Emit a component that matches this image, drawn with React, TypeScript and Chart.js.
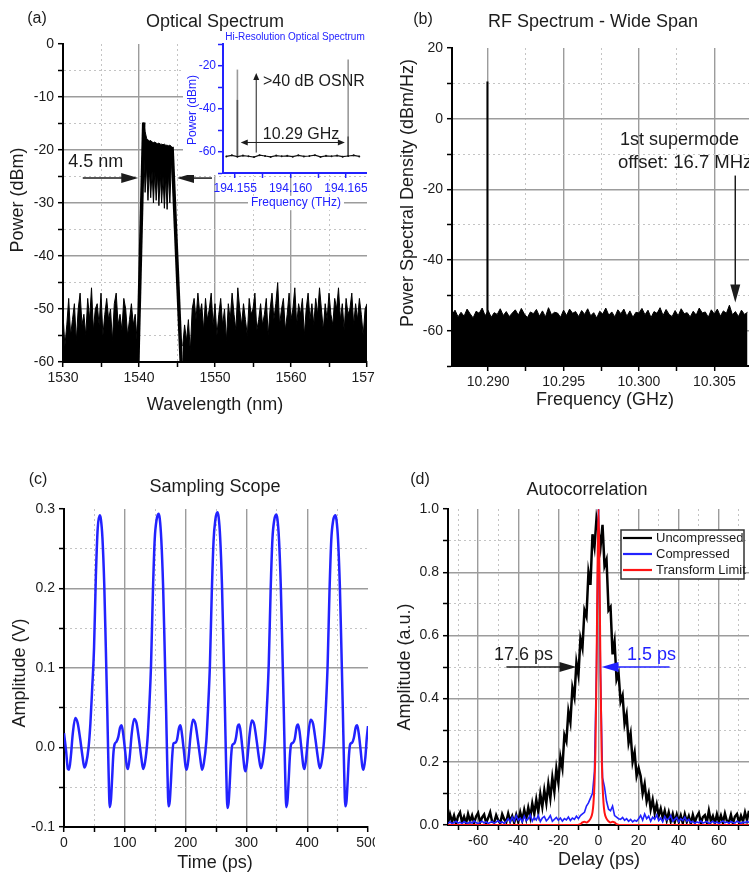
import React, { useEffect, useRef } from 'react';
import { Chart, registerables } from 'chart.js';

Chart.register(...registerables);

const FONT = '"Liberation Sans", Arial, Helvetica, sans-serif';
const INK = '#1c1c1c';
const BLUE = '#2222ff';
const RED = '#ff1414';
const GRID_MAJOR = '#9c9c9c';
const GRID_MINOR = '#c4c4c4';
Chart.defaults.font.family = FONT;

// ---------------- (a) Optical spectrum ----------------
const wavelengthTicks = [1530, 1535, 1540, 1545, 1550, 1555, 1560, 1565, 1570];
const wavelengthLabels = [1530, 1540, 1550, 1560, 1570];
const powerTicks = [-60, -55, -50, -45, -40, -35, -30, -25, -20, -15, -10, -5, 0];
const powerLabels = [-60, -50, -40, -30, -20, -10, 0];

const noiseLeftStartNm = 1530;
const noiseLeftStepNm = 0.25;
const noiseLeftDbm = [-51, -57, -53, -48, -55, -52, -49, -56, -50, -47, -53, -51, -55, -48, -52, -46, -54, -50, -49, -53,
  -47, -55, -51, -48, -52, -50, -56, -49, -47, -53, -51, -54, -48, -50, -55, -52, -49, -53, -51, -56];

const noiseRightStartNm = 1545.75;
const noiseRightStepNm = 0.25;
const noiseRightDbm = [-57,
  -53, -56, -52, -58,
  -50, -48, -52, -47, -51, -49, -54, -48, -52, -50, -47, -53, -49, -55, -51, -48,
  -53, -50, -56, -49, -52, -47, -51, -54, -46, -50, -53, -49, -52, -55, -48, -51,
  -50, -47, -54, -52, -49, -53, -51, -48, -55, -50, -47, -52, -49, -45, -53, -50,
  -48, -54, -51, -47, -52, -50, -46, -53, -49, -51, -48, -55, -50, -47, -52, -49,
  -53, -48, -51, -46, -50, -54, -49, -52, -47, -51, -53, -48, -50, -46, -52, -49,
  -54, -48, -51, -50, -47, -53, -49, -52, -48, -51, -55, -50,
  -49];

const leftEdgeNm = [1539.85, 1540.62];
const leftEdgeDbm = [-60, -14.8];
const rightEdgeNm = [1544.35, 1545.55];
const rightEdgeDbm = [-19.4, -60];

const bandNm = [1540.62, 1540.8, 1541.0, 1541.18, 1541.36, 1541.54, 1541.72, 1541.9, 1542.08, 1542.26, 1542.44,
  1542.62, 1542.8, 1542.98, 1543.16, 1543.34, 1543.52, 1543.7, 1543.88, 1544.06, 1544.24, 1544.4];
const bandTopDbm = [-14.8, -16.5, -17.8, -18.1, -18.3, -18.2, -18.5, -18.6, -18.5, -18.7, -18.8,
  -18.7, -18.9, -18.9, -19.0, -18.9, -19.1, -19.1, -19.2, -19.1, -19.3, -19.6];
const bandBottomDbm = [-20, -28, -23, -29.5, -23.5, -29, -24, -30, -24, -29.5, -24.5,
  -30.5, -24.5, -30, -25, -31, -25, -31.2, -24.5, -30, -23, -21];

// inset: hi-resolution optical spectrum
const insetFreqTicks = [194.155, 194.1575, 194.16, 194.1625, 194.165];
const insetFreqLabels = [194.155, 194.16, 194.165];
const insetPowerTicks = [-70, -60, -50, -40, -30, -20, -10];
const insetPowerLabels = [-60, -40, -20];
const insetFloorStartThz = 194.1542;
const insetFloorStepThz = 0.0005;
const insetFloorDbm = [-62.3, -61.8, -62.4, -61.9, -62.2, -62.6, -61.7, -62.1, -62.5, -61.9, -62.2, -62.0, -62.4,
  -61.8, -62.3, -62.1, -61.7, -62.5, -62.0, -62.2, -61.9, -62.4, -62.1, -61.8, -62.3];
const combLineThz = [194.1552, 194.1652];
const combTopDbm = [-21.9, -17.2];
const combDarkTopDbm = [-36, -53];
const combBaseDbm = -62;

// ---------------- (b) RF spectrum ----------------
const rfFreqTicks = [10.29, 10.2925, 10.295, 10.2975, 10.3, 10.3025, 10.305];
const rfFreqLabels = [10.29, 10.295, 10.3, 10.305];
const psdTicks = [-70, -60, -50, -40, -30, -20, -10, 0, 10, 20];
const psdLabels = [-60, -40, -20, 0, 20];
const rfNoiseStartGhz = 10.2876;
const rfNoiseStepGhz = 0.0002;
const rfNoiseDbm = [-55.5, -54.2, -56.1, -54.8, -55.9, -53.9, -55.2, -56.4, -54.5, -55.1, -53.6, -55.8, -54.3, -56.2, -54.9, -55.4, -53.8, -55.7, -54.6, -56.0,
  -55.0, -54.1, -55.6, -53.7, -55.3, -56.3, -54.7, -55.2, -54.0, -55.9, -54.4, -56.1, -53.5, -55.5, -54.8, -55.0, -56.2, -54.2, -55.7, -53.9,
  -55.1, -54.6, -56.0, -54.3, -55.4, -53.8, -55.8, -54.9, -56.4, -54.5, -55.3, -53.6, -55.6, -54.7, -56.1, -54.1, -55.2, -53.9, -55.9, -54.4,
  -56.2, -54.8, -55.0, -53.7, -55.5, -54.2, -56.3, -54.6, -55.1, -53.5, -55.7, -54.0, -55.4, -56.0, -54.3, -55.8, -53.8, -55.2, -54.9, -56.1,
  -54.5, -55.6, -53.6, -55.0, -54.7, -56.2, -54.1, -55.3, -53.9, -55.9, -54.4, -55.1, -52.8, -55.5, -54.6, -56.0, -54.2, -55.4, -54.8];
const carrierGhz = 10.28995;
const carrierDbm = 10.5;

// ---------------- (c) Sampling scope ----------------
const timeTicks = [0, 50, 100, 150, 200, 250, 300, 350, 400, 450, 500];
const timeLabels = [0, 100, 200, 300, 400, 500];
const voltTicks = [-0.1, -0.05, 0, 0.05, 0.1, 0.15, 0.2, 0.25, 0.3];
const voltLabels = [-0.1, 0, 0.1, 0.2, 0.3];
const scopeTimePs = [
  0, 3.4, 6.4, 8.4, 11.4, 14.4, 18.4, 22.4, 26.4, 30.4, 33.4, 36.4, 40.4, 43.4, 46.4, 49.4, 52.4, 55.4,
  58.7, 60.7, 63.2, 66.2, 68.7, 71.2, 73.2, 75.2, 77.2, 79.2, 81.2, 83.2, 86.2, 89.2, 92.2, 94.7, 97.2, 100.2, 103.2, 105.2, 108.2, 111.2, 115.2, 119.2, 123.2, 127.2, 130.2, 133.2, 137.2, 140.2, 143.2, 146.2, 149.2, 152.2,
  155.5, 157.5, 160, 163, 165.5, 168, 170, 172, 174, 176, 178, 180, 183, 186, 189, 191.5, 194, 197, 200, 202, 205, 208, 212, 216, 220, 224, 227, 230, 234, 237, 240, 243, 246, 249,
  252.3, 254.3, 256.8, 259.8, 262.3, 264.8, 266.8, 268.8, 270.8, 272.8, 274.8, 276.8, 279.8, 282.8, 285.8, 288.3, 290.8, 293.8, 296.8, 298.8, 301.8, 304.8, 308.8, 312.8, 316.8, 320.8, 323.8, 326.8, 330.8, 333.8, 336.8, 339.8, 342.8, 345.8,
  349.1, 351.1, 353.6, 356.6, 359.1, 361.6, 363.6, 365.6, 367.6, 369.6, 371.6, 373.6, 376.6, 379.6, 382.6, 385.1, 387.6, 390.6, 393.6, 395.6, 398.6, 401.6, 405.6, 409.6, 413.6, 417.6, 420.6, 423.6, 427.6, 430.6, 433.6, 436.6, 439.6, 442.6,
  446.2, 448.2, 450.7, 453.7, 456.2, 458.7, 460.7, 462.7, 464.7, 466.7, 468.7, 470.7, 473.7, 476.7, 479.7, 482.2, 484.7, 487.7, 490.7, 492.7, 495.7, 498, 500];
const scopeVolts = [
  0.018, -0.004, -0.027, -0.028, -0.01, 0.017, 0.037, 0.031, 0.012, -0.011, -0.025, -0.02, 0.0, 0.03, 0.075, 0.125, 0.215, 0.275,
  0.292, 0.287, 0.264, 0.205, 0.128, 0.046, -0.026, -0.075, -0.066, -0.038, -0.008, 0.004, 0.007, 0.013, 0.025, 0.028, 0.018, -0.002, -0.023, -0.027, -0.011, 0.016, 0.036, 0.031, 0.011, -0.013, -0.027, -0.019, 0.009, 0.05, 0.105, 0.195, 0.262, 0.286,
  0.294, 0.288, 0.262, 0.203, 0.126, 0.045, -0.027, -0.074, -0.067, -0.041, -0.011, 0.005, 0.006, 0.01, 0.024, 0.028, 0.017, -0.003, -0.024, -0.028, -0.012, 0.014, 0.035, 0.03, 0.01, -0.013, -0.028, -0.02, 0.007, 0.05, 0.104, 0.193, 0.26, 0.287,
  0.296, 0.29, 0.265, 0.205, 0.127, 0.044, -0.028, -0.076, -0.069, -0.042, -0.012, 0.003, 0.005, 0.012, 0.027, 0.029, 0.018, -0.004, -0.026, -0.03, -0.013, 0.013, 0.034, 0.029, 0.009, -0.014, -0.026, -0.018, 0.01, 0.052, 0.106, 0.196, 0.262, 0.286,
  0.293, 0.287, 0.262, 0.202, 0.125, 0.042, -0.028, -0.075, -0.067, -0.04, -0.01, 0.004, 0.006, 0.011, 0.026, 0.029, 0.019, -0.002, -0.023, -0.027, -0.011, 0.015, 0.035, 0.03, 0.01, -0.013, -0.026, -0.019, 0.008, 0.049, 0.104, 0.194, 0.261, 0.285,
  0.292, 0.286, 0.262, 0.203, 0.126, 0.044, -0.027, -0.074, -0.067, -0.04, -0.01, 0.004, 0.006, 0.012, 0.025, 0.028, 0.018, -0.002, -0.024, -0.028, -0.012, 0.012, 0.027];

// ---------------- (d) Autocorrelation ----------------
const delayTicks = [-70, -60, -50, -40, -30, -20, -10, 0, 10, 20, 30, 40, 50, 60, 70];
const delayLabels = [-60, -40, -20, 0, 20, 40, 60];
const auTicks = [0, 0.1, 0.2, 0.3, 0.4, 0.5, 0.6, 0.7, 0.8, 0.9, 1.0];
const auLabels = [0, 0.2, 0.4, 0.6, 0.8, 1.0];
const delayStartPs = -75;
const delayStepPs = 1;
const uncompressedAu = [
  0.006, 0.034, 0.01, 0.03, 0.004, 0.028, 0.04, 0.008, 0.026, 0.005, 0.035, 0.012, 0.03, 0.006, 0.027, 0.038, 0.009, 0.024, 0.033, 0.007,
  0.022, 0.04, 0.01, 0.008, 0.031, 0.015, 0.005, 0.034, 0.018, 0.009, 0.036, 0.012, 0.028, 0.007, 0.032,
  0.01, 0.04, 0.015, 0.048, 0.02, 0.055, 0.025, 0.068, 0.035, 0.08, 0.042, 0.098, 0.058, 0.11, 0.07, 0.13, 0.085, 0.15, 0.105, 0.178,
  0.135, 0.215, 0.18, 0.285, 0.265, 0.36, 0.325, 0.435, 0.405, 0.515, 0.475, 0.59, 0.56, 0.68, 0.66, 0.8, 0.76, 0.92, 0.88, 0.97,
  0.93,
  0.88, 0.95, 0.82, 0.84, 0.68, 0.69, 0.54, 0.58, 0.46, 0.48, 0.39, 0.41, 0.32, 0.35, 0.26, 0.29, 0.2, 0.23, 0.155, 0.18,
  0.155, 0.1, 0.13, 0.075, 0.1, 0.05, 0.08, 0.038, 0.065, 0.03, 0.052, 0.022, 0.045, 0.015, 0.04, 0.012, 0.035, 0.009, 0.033, 0.01,
  0.03, 0.006, 0.034, 0.01, 0.028, 0.004, 0.032, 0.009, 0.027, 0.038, 0.006, 0.025, 0.031, 0.008, 0.045, 0.012, 0.028, 0.005, 0.034, 0.01,
  0.03, 0.007, 0.036, 0.012, 0.009, 0.032, 0.005, 0.027, 0.035, 0.008, 0.029, 0.011, 0.04, 0.015, 0.045];
const compressedAu = [
  0.005, 0.01, 0.004, 0.008, 0.012, 0.006, 0.009, 0.004, 0.011, 0.007, 0.005, 0.01, 0.006, 0.013, 0.008, 0.004, 0.009, 0.012, 0.006, 0.01,
  0.005, 0.008, 0.011, 0.006, 0.009, 0.014, 0.007, 0.01, 0.005, 0.012,
  0.02, 0.01, 0.025, 0.012, 0.03, 0.015, 0.022, 0.01, 0.028, 0.014, 0.02, 0.032, 0.012, 0.024, 0.016, 0.03, 0.011, 0.022, 0.027, 0.013,
  0.02, 0.03, 0.012, 0.018, 0.024,
  0.015, 0.022, 0.012, 0.02, 0.016, 0.025, 0.014, 0.022, 0.018, 0.028, 0.02, 0.03,
  0.035, 0.04, 0.06, 0.07, 0.085, 0.1, 0.17, 0.5, 1.0, 0.48, 0.15, 0.12, 0.075, 0.05, 0.045, 0.06, 0.03,
  0.025, 0.02, 0.018, 0.024, 0.015, 0.02, 0.012, 0.018, 0.01, 0.015, 0.012, 0.02,
  0.03, 0.015, 0.035, 0.02, 0.028, 0.012, 0.025, 0.018, 0.032, 0.014, 0.022, 0.01, 0.027, 0.016, 0.02, 0.03, 0.012, 0.018, 0.024, 0.01,
  0.02, 0.014, 0.025, 0.012, 0.018,
  0.008, 0.012, 0.005, 0.01, 0.007, 0.013, 0.006, 0.009, 0.011, 0.005, 0.008, 0.012, 0.006, 0.01, 0.004, 0.009, 0.013, 0.007, 0.01, 0.005,
  0.011, 0.008, 0.006, 0.012, 0.009, 0.005, 0.01, 0.007, 0.012, 0.008];
const transformDelayPs = [-75, -12, -9, -8, -7, -6, -5, -4, -3, -2.5, -2, -1.5, -1, -0.5, 0, 0.5, 1, 1.5, 2, 2.5, 3, 4, 5, 6, 7, 8, 9, 12, 75];
const transformAu = [0, 0, 0.003, 0.008, 0.01, 0.008, 0.012, 0.02, 0.04, 0.07, 0.13, 0.25, 0.48, 0.8, 1.0, 0.8, 0.48, 0.25, 0.13, 0.07, 0.04, 0.02, 0.012, 0.008, 0.01, 0.008, 0.003, 0, 0];
const seriesNames = ['Uncompressed', 'Compressed', 'Transform Limit'];

// ---------------- helpers ----------------
const pts = (xs: number[], ys: number[]) => xs.map((x, i) => ({ x, y: ys[i] }));
const onGrid = (start: number, step: number, ys: number[]) => ys.map((y, i) => ({ x: start + i * step, y }));
const near = (a: number, b: number) => Math.abs(a - b) < 1e-7;

type AxisOpt = {
  min: number; max: number; ticks: number[]; labels: number[]; fmt: (v: number) => string;
  fit: number; horizontal: boolean; color?: string; onArea?: boolean; size?: number; pad?: number;
};
function axis(o: AxisOpt) {
  const col = o.color || '#000';
  const isLab = (v: number) => o.labels.some((l) => near(l, v));
  const isEdge = (v: number) => near(v, o.min) || near(v, o.max);
  return {
    type: 'linear',
    min: o.min,
    max: o.max,
    afterBuildTicks: (s: any) => { s.ticks = o.ticks.map((v) => ({ value: v })); },
    afterFit: (s: any) => {
      if (o.horizontal) s.height = o.fit; else s.width = o.fit;
      s.paddingLeft = 0; s.paddingRight = 0; s.paddingTop = 0; s.paddingBottom = 0;
    },
    ticks: {
      autoSkip: false, maxRotation: 0, minRotation: 0, padding: o.pad ?? 3,
      color: o.color || INK, font: { family: FONT, size: o.size ?? 14 },
      callback: (v: number) => (isLab(v) ? o.fmt(v) : ''),
    },
    grid: {
      drawOnChartArea: o.onArea !== false, drawTicks: true, tickLength: 5, tickWidth: 1.5, tickColor: col,
      color: (c: any) => {
        const v = c.tick?.value;
        if (v === undefined || isEdge(v)) return 'rgba(0,0,0,0)';
        return isLab(v) ? GRID_MAJOR : GRID_MINOR;
      },
      lineWidth: (c: any) => { const v = c.tick?.value; return v !== undefined && isLab(v) ? 1.4 : 1; },
    },
    border: {
      display: true, color: col, width: 2,
      dash: (c: any) => { const v = c.tick?.value; return v !== undefined && !isLab(v) ? [2, 3] : []; },
    },
  };
}

type Txt = { text: string; x: number; y: number; size: number; color?: string; align?: CanvasTextAlign; rot?: boolean; data?: boolean; bg?: boolean };
type Arrow = { x1: number; y1: number; x2: number; y2: number; color?: string; both?: boolean; head?: number; hw?: number; lw?: number };
type Legend = { x: number; y: number; w: number; h: number; first: number; row: number; size: number };
type AnnotCfg = { texts?: Txt[]; arrows?: Arrow[]; legend?: Legend; bg?: number[][] };

function annot(cfg: AnnotCfg) {
  return {
    id: 'annot',
    beforeDraw(chart: any) {
      if (!cfg.bg) return;
      const ctx = chart.ctx;
      ctx.save();
      ctx.fillStyle = '#ffffff';
      for (const r of cfg.bg) ctx.fillRect(r[0], r[1], r[2], r[3]);
      ctx.restore();
    },
    afterDraw(chart: any) {
      const ctx = chart.ctx;
      const xs = chart.scales.x;
      const ys = chart.scales.y;
      ctx.save();
      for (const a of cfg.arrows || []) {
        const x1 = xs.getPixelForValue(a.x1), y1 = ys.getPixelForValue(a.y1);
        const x2 = xs.getPixelForValue(a.x2), y2 = ys.getPixelForValue(a.y2);
        const L = Math.hypot(x2 - x1, y2 - y1);
        const ux = (x2 - x1) / L, uy = (y2 - y1) / L;
        const nx = -uy, ny = ux;
        const hl = a.head ?? 16, hw = a.hw ?? 5;
        const c = a.color ?? INK;
        ctx.strokeStyle = c;
        ctx.fillStyle = c;
        ctx.lineWidth = a.lw ?? 1.5;
        const sx = a.both ? x1 + ux * hl * 0.8 : x1;
        const sy = a.both ? y1 + uy * hl * 0.8 : y1;
        ctx.beginPath();
        ctx.moveTo(sx, sy);
        ctx.lineTo(x2 - ux * hl * 0.8, y2 - uy * hl * 0.8);
        ctx.stroke();
        const head = (px: number, py: number, dx: number, dy: number) => {
          ctx.beginPath();
          ctx.moveTo(px, py);
          ctx.lineTo(px - dx * hl + nx * hw, py - dy * hl + ny * hw);
          ctx.lineTo(px - dx * hl - nx * hw, py - dy * hl - ny * hw);
          ctx.closePath();
          ctx.fill();
        };
        head(x2, y2, ux, uy);
        if (a.both) head(x1, y1, -ux, -uy);
      }
      for (const t of cfg.texts || []) {
        let x = t.x, y = t.y;
        if (t.data) { x = xs.getPixelForValue(t.x); y = ys.getPixelForValue(t.y); }
        ctx.save();
        ctx.font = `${t.size}px ${FONT}`;
        ctx.textAlign = t.align ?? 'center';
        ctx.textBaseline = 'middle';
        ctx.translate(x, y);
        if (t.rot) ctx.rotate(-Math.PI / 2);
        if (t.bg) {
          const w = ctx.measureText(t.text).width;
          ctx.fillStyle = '#ffffff';
          ctx.fillRect(-w / 2 - 3, -t.size * 0.6, w + 6, t.size * 1.2);
        }
        ctx.fillStyle = t.color ?? INK;
        ctx.fillText(t.text, 0, 0);
        ctx.restore();
      }
      const lg = cfg.legend;
      if (lg) {
        ctx.fillStyle = '#ffffff';
        ctx.fillRect(lg.x, lg.y, lg.w, lg.h);
        ctx.strokeStyle = '#333333';
        ctx.lineWidth = 1.5;
        ctx.strokeRect(lg.x, lg.y, lg.w, lg.h);
        const items = chart.data.datasets.filter((d: any) => d.label);
        items.forEach((d: any, i: number) => {
          const y = lg.y + lg.first + i * lg.row;
          ctx.strokeStyle = d.borderColor;
          ctx.lineWidth = 2.2;
          ctx.beginPath();
          ctx.moveTo(lg.x + 2, y);
          ctx.lineTo(lg.x + 31, y);
          ctx.stroke();
          ctx.fillStyle = INK;
          ctx.font = `${lg.size}px ${FONT}`;
          ctx.textAlign = 'left';
          ctx.textBaseline = 'middle';
          ctx.fillText(d.label, lg.x + 35, y);
        });
      }
      ctx.restore();
    },
  };
}

function baseOptions(padding: any, scales: any) {
  return {
    responsive: false,
    animation: false,
    devicePixelRatio: 1,
    events: [],
    layout: { padding, autoPadding: false },
    plugins: { legend: { display: false }, tooltip: { enabled: false } },
    elements: { point: { radius: 0 }, line: { tension: 0 } },
    scales,
  };
}

const line = (data: any[], color: string, width: number, extra: any = {}) => ({
  data, showLine: true, borderColor: color, backgroundColor: color, borderWidth: width, pointRadius: 0, fill: false, ...extra,
});

// ---------------- chart configs ----------------
function makeOptical() {
  return {
    type: 'scatter',
    data: {
      datasets: [
        line(onGrid(noiseLeftStartNm, noiseLeftStepNm, noiseLeftDbm), '#000', 1, { fill: 'start' }),
        line(pts(leftEdgeNm, leftEdgeDbm), '#000', 3.5),
        line(pts(bandNm, bandTopDbm), '#000', 1, { fill: '+1' }),
        line(pts(bandNm, bandBottomDbm), '#000', 1),
        line(pts(rightEdgeNm, rightEdgeDbm), '#000', 3.5),
        line(onGrid(noiseRightStartNm, noiseRightStepNm, noiseRightDbm), '#000', 1, { fill: 'start' }),
      ],
    },
    options: baseOptions({ left: 0, top: 44, right: 8, bottom: 0 }, {
      x: axis({ min: 1530, max: 1570, ticks: wavelengthTicks, labels: wavelengthLabels, fmt: (v) => String(v), fit: 58, horizontal: true }),
      y: axis({ min: -60, max: 0, ticks: powerTicks, labels: powerLabels, fmt: (v) => String(v), fit: 63, horizontal: false, pad: 4 }),
    }),
    plugins: [annot({
      texts: [
        { text: '(a)', x: 37, y: 19, size: 16 },
        { text: 'Optical Spectrum', x: 215, y: 22, size: 18 },
        { text: 'Power (dBm)', x: 18, y: 200, size: 18, rot: true },
        { text: 'Wavelength (nm)', x: 215, y: 405, size: 18 },
        { text: '4.5 nm', x: 1534.3, y: -22.3, size: 18, data: true },
      ],
      arrows: [
        { x1: 1532.6, y1: -25.3, x2: 1539.9, y2: -25.3, head: 17, hw: 5 },
        { x1: 1549.6, y1: -25.3, x2: 1545.0, y2: -25.3, head: 17, hw: 5 },
      ],
    })],
  };
}

function makeInset() {
  const datasets: any[] = [
    line(onGrid(insetFloorStartThz, insetFloorStepThz, insetFloorDbm), '#111', 1.2, { pointRadius: 1, pointBackgroundColor: '#111', pointBorderWidth: 0 }),
  ];
  combLineThz.forEach((f, i) => {
    datasets.push(line(pts([f, f], [combBaseDbm, combDarkTopDbm[i]]), '#555', 1.6));
    datasets.push(line(pts([f, f], [combBaseDbm, combTopDbm[i]]), '#9a9a9a', 1.6));
  });
  return {
    type: 'scatter',
    data: { datasets },
    options: baseOptions({ left: 0, top: 16, right: 0, bottom: 0 }, {
      x: axis({ min: 194.1539, max: 194.1669, ticks: insetFreqTicks, labels: insetFreqLabels, fmt: (v) => v.toFixed(3), fit: 39, horizontal: true, color: BLUE, onArea: false, size: 12 }),
      y: axis({ min: -70, max: -10, ticks: insetPowerTicks, labels: insetPowerLabels, fmt: (v) => String(v), fit: 40, horizontal: false, color: BLUE, onArea: false, size: 12, pad: 2 }),
    }),
    plugins: [annot({
      bg: [[0, 4, 184, 143]],
      texts: [
        { text: 'Hi-Resolution Optical Spectrum', x: 112, y: 9, size: 10, color: BLUE },
        { text: 'Power (dBm)', x: 10, y: 82, size: 12, color: BLUE, rot: true },
        { text: 'Frequency (THz)', x: 113, y: 175, size: 12, color: BLUE, bg: true },
        { text: '>40 dB OSNR', x: 80, y: 54, size: 16, align: 'left' },
        { text: '10.29 GHz', x: 118, y: 107, size: 16 },
      ],
      arrows: [
        { x1: 194.1569, y1: -60.5, x2: 194.1569, y2: -23.5, head: 7, hw: 3, lw: 1 },
        { x1: 194.1555, y1: -55.8, x2: 194.1649, y2: -55.8, head: 7, hw: 3, lw: 1, both: true },
      ],
    })],
  };
}

function makeRf() {
  return {
    type: 'scatter',
    data: {
      datasets: [
        line(pts([carrierGhz, carrierGhz], [-70, carrierDbm]), '#000', 2),
        line(onGrid(rfNoiseStartGhz, rfNoiseStepGhz, rfNoiseDbm), '#000', 1, { fill: 'start' }),
      ],
    },
    options: baseOptions({ left: 0, top: 48, right: 0, bottom: 0 }, {
      x: axis({ min: 10.2876, max: 10.3073, ticks: rfFreqTicks, labels: rfFreqLabels, fmt: (v) => v.toFixed(3), fit: 54, horizontal: true }),
      y: axis({ min: -70, max: 20, ticks: psdTicks, labels: psdLabels, fmt: (v) => String(v), fit: 77, horizontal: false, pad: 4 }),
    }),
    plugins: [annot({
      texts: [
        { text: '(b)', x: 48, y: 20, size: 16 },
        { text: 'RF Spectrum - Wide Span', x: 218, y: 22, size: 18 },
        { text: 'Power Spectral Density (dBm/Hz)', x: 33, y: 193, size: 18, rot: true },
        { text: 'Frequency (GHz)', x: 230, y: 400, size: 18 },
        { text: '1st supermode', x: 245, y: 140, size: 18, align: 'left' },
        { text: 'offset: 16.7 MHz', x: 243, y: 163, size: 18.5, align: 'left' },
      ],
      arrows: [{ x1: 10.30639, y1: -16.1, x2: 10.30639, y2: -52, head: 18, hw: 5 }],
    })],
  };
}

function makeScope() {
  return {
    type: 'scatter',
    data: {
      datasets: [
        line(pts(scopeTimePs, scopeVolts), BLUE, 2.5, { cubicInterpolationMode: 'monotone', tension: 0.4 }),
      ],
    },
    options: baseOptions({ left: 0, top: 79, right: 7, bottom: 0 }, {
      x: axis({ min: 0, max: 500, ticks: timeTicks, labels: timeLabels, fmt: (v) => String(v), fit: 48, horizontal: true }),
      y: axis({ min: -0.1, max: 0.3, ticks: voltTicks, labels: voltLabels, fmt: (v) => v.toFixed(1), fit: 64, horizontal: false, pad: 4 }),
    }),
    plugins: [annot({
      texts: [
        { text: '(c)', x: 38, y: 50, size: 16 },
        { text: 'Sampling Scope', x: 215, y: 57, size: 18 },
        { text: 'Amplitude (V)', x: 20, y: 243, size: 18, rot: true },
        { text: 'Time (ps)', x: 215, y: 433, size: 18 },
      ],
    })],
  };
}

function makeAuto() {
  return {
    type: 'scatter',
    data: {
      datasets: [
        line(onGrid(delayStartPs, delayStepPs, uncompressedAu), '#000', 2.5, { label: seriesNames[0], order: 3 }),
        line(onGrid(delayStartPs, delayStepPs, compressedAu), BLUE, 1.6, { label: seriesNames[1], order: 2 }),
        line(pts(transformDelayPs, transformAu), RED, 2, { label: seriesNames[2], order: 1, cubicInterpolationMode: 'monotone', tension: 0.4 }),
      ],
    },
    options: baseOptions({ left: 0, top: 79, right: 0, bottom: 0 }, {
      x: axis({ min: -75, max: 75, ticks: delayTicks, labels: delayLabels, fmt: (v) => String(v), fit: 50, horizontal: true }),
      y: axis({ min: 0, max: 1, ticks: auTicks, labels: auLabels, fmt: (v) => v.toFixed(1), fit: 73, horizontal: false, pad: 4 }),
    }),
    plugins: [annot({
      texts: [
        { text: '(d)', x: 45, y: 50, size: 16 },
        { text: 'Autocorrelation', x: 212, y: 60, size: 18 },
        { text: 'Amplitude (a.u.)', x: 30, y: 237, size: 18, rot: true },
        { text: 'Delay (ps)', x: 224, y: 430, size: 18 },
        { text: '17.6 ps', x: -37.4, y: 0.538, size: 18, data: true },
        { text: '1.5 ps', x: 26.4, y: 0.538, size: 18, data: true, color: BLUE },
      ],
      arrows: [
        { x1: -45.9, y1: 0.5, x2: -11, y2: 0.5, head: 17, hw: 5 },
        { x1: 35.4, y1: 0.5, x2: 1.5, y2: 0.5, head: 17, hw: 5, color: BLUE },
      ],
      legend: { x: 246, y: 100, w: 123, h: 49, first: 8, row: 16, size: 13 },
    })],
  };
}

function Panel({ left, top, width, height, make }: { left: number; top: number; width: number; height: number; make: () => any }) {
  const ref = useRef<HTMLCanvasElement>(null);
  useEffect(() => {
    if (!ref.current) return;
    const chart = new Chart(ref.current, make());
    return () => chart.destroy();
  }, []);
  return (
    <canvas
      ref={ref}
      width={width}
      height={height}
      style={{ position: 'absolute', left, top, width, height, display: 'block' }}
    />
  );
}

export default function App() {
  return (
    <div style={{ position: 'absolute', left: 0, top: 0, width: 749, height: 875, background: '#fff', overflow: 'hidden' }}>
      <Panel left={0} top={0} width={375} height={420} make={makeOptical} />
      <Panel left={183} top={28} width={184} height={184} make={makeInset} />
      <Panel left={375} top={0} width={374} height={420} make={makeRf} />
      <Panel left={0} top={430} width={375} height={445} make={makeScope} />
      <Panel left={375} top={430} width={374} height={445} make={makeAuto} />
    </div>
  );
}
